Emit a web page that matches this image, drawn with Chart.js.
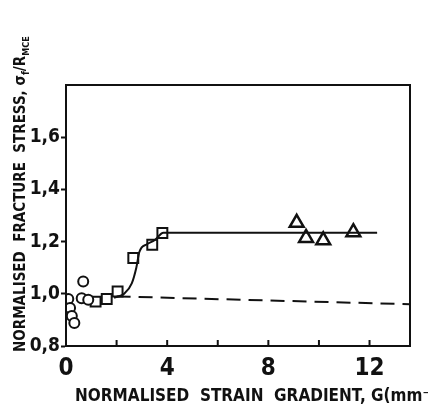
<!DOCTYPE html>
<html>
<head>
<meta charset="utf-8">
<script src="https://cdn.jsdelivr.net/npm/chart.js@4"></script>
<style>
  html, body { margin: 0; padding: 0; background: #fff; }
  #wrap { width: 428px; height: 415px; }
</style>
</head>
<body>
<div id="wrap"><canvas id="chart" width="428" height="415"></canvas></div>
<script>
// values
const circleG = [0.09, 0.16, 0.23, 0.33, 0.62, 0.68, 0.88];
const circleS = [0.98, 0.946, 0.915, 0.888, 0.983, 1.047, 0.977];

const squareG = [1.17, 1.61, 2.04, 2.66, 3.41, 3.81];
const squareS = [0.970, 0.980, 1.009, 1.137, 1.188, 1.233];

const triangleG = [9.12, 9.49, 10.17, 11.36];
const triangleS = [1.272, 1.214, 1.205, 1.236];

// hand-drawn trend curve and dashed reference line
const curveG = [1.9, 2.3, 2.6, 2.78, 2.9, 3.2, 3.5, 3.85, 12.3];
const curveS = [0.985, 1.0, 1.04, 1.10, 1.16, 1.19, 1.205, 1.234, 1.234];
const dashG = [2.0, 13.6];
const dashS = [0.99, 0.96];

const xTicks = [0, 4, 8, 12];
const yTicks = [0.8, 1.0, 1.2, 1.4, 1.6];
const xMinor = [2, 4, 6, 8, 10, 12];

const FONT = "'Liberation Sans Narrow', 'DejaVu Sans Condensed', sans-serif";
const INK = "#111";

const pts = (xs, ys) => xs.map((x, i) => ({ x: x, y: ys[i] }));

// frame, inward x ticks and axis titles
const framePlugin = {
  id: "frame",
  afterDraw(chart) {
    const { ctx, chartArea: a, scales } = chart;
    ctx.save();
    ctx.strokeStyle = INK;
    ctx.lineWidth = 2;
    ctx.strokeRect(a.left, a.top, a.right - a.left, a.bottom - a.top);
    xMinor.forEach(v => {
      const px = scales.x.getPixelForValue(v);
      ctx.beginPath();
      ctx.moveTo(px, a.bottom);
      ctx.lineTo(px, a.bottom - 6);
      ctx.stroke();
    });

    ctx.fillStyle = INK;
    ctx.textBaseline = "alphabetic";
    // x title
    ctx.font = "bold 17px " + FONT;
    ctx.textAlign = "left";
    ctx.fillText("NORMALISED  STRAIN  GRADIENT, G(mm\u207B\u00B9)", 75, 401);

    // y title with subscripts
    ctx.translate(25, 352);
    ctx.rotate(-Math.PI / 2);
    const parts = [
      ["NORMALISED  FRACTURE  STRESS, \u03C3", 15, 0],
      ["f", 10, 4],
      ["/R", 15, 0],
      ["MCE", 9, 4]
    ];
    let x = 0;
    parts.forEach(([t, size, dy]) => {
      ctx.font = "bold " + size + "px " + FONT;
      ctx.fillText(t, x, dy);
      x += ctx.measureText(t).width;
    });
    ctx.restore();
  }
};

new Chart(document.getElementById("chart"), {
  type: "scatter",
  data: {
    datasets: [
      {
        label: "curve",
        type: "line",
        data: pts(curveG, curveS),
        borderColor: INK,
        borderWidth: 2,
        pointRadius: 0,
        cubicInterpolationMode: "monotone",
        fill: false
      },
      {
        label: "dashed",
        type: "line",
        data: pts(dashG, dashS),
        borderColor: INK,
        borderWidth: 2,
        borderDash: [14, 8],
        pointRadius: 0,
        fill: false
      },
      {
        label: "circles",
        data: pts(circleG, circleS),
        pointStyle: "circle",
        pointRadius: 5,
        borderColor: INK,
        borderWidth: 2,
        backgroundColor: "#fff"
      },
      {
        label: "squares",
        data: pts(squareG, squareS),
        pointStyle: "rect",
        pointRadius: 7,
        borderColor: INK,
        borderWidth: 2,
        backgroundColor: "#fff"
      },
      {
        label: "triangles",
        data: pts(triangleG, triangleS),
        pointStyle: "triangle",
        pointRadius: 8,
        borderColor: INK,
        borderWidth: 2.5,
        backgroundColor: "#fff"
      }
    ]
  },
  options: {
    responsive: false,
    animation: false,
    layout: { padding: { left: 0, right: 18, top: 85, bottom: 0 } },
    plugins: {
      legend: { display: false },
      tooltip: { enabled: false }
    },
    scales: {
      x: {
        type: "linear",
        min: 0,
        max: 13.6,
        afterFit: s => { s.height = 69; },
        afterBuildTicks: s => { s.ticks = xTicks.map(v => ({ value: v })); },
        ticks: {
          color: INK,
          font: { family: FONT, size: 24, weight: "bold" },
          padding: 0,
          maxRotation: 0
        },
        grid: { display: false },
        border: { color: INK, width: 2 }
      },
      y: {
        type: "linear",
        min: 0.8,
        max: 1.8,
        afterFit: s => { s.width = 66; },
        afterBuildTicks: s => { s.ticks = yTicks.map(v => ({ value: v })); },
        ticks: {
          color: INK,
          font: { family: FONT, size: 19, weight: "bold" },
          padding: 1,
          callback: v => v.toFixed(1).replace(".", ",")
        },
        grid: {
          drawOnChartArea: false,
          drawTicks: true,
          tickLength: 5,
          tickColor: INK,
          tickWidth: 2
        },
        border: { color: INK, width: 2 }
      }
    }
  },
  plugins: [framePlugin]
});
</script>
</body>
</html>
